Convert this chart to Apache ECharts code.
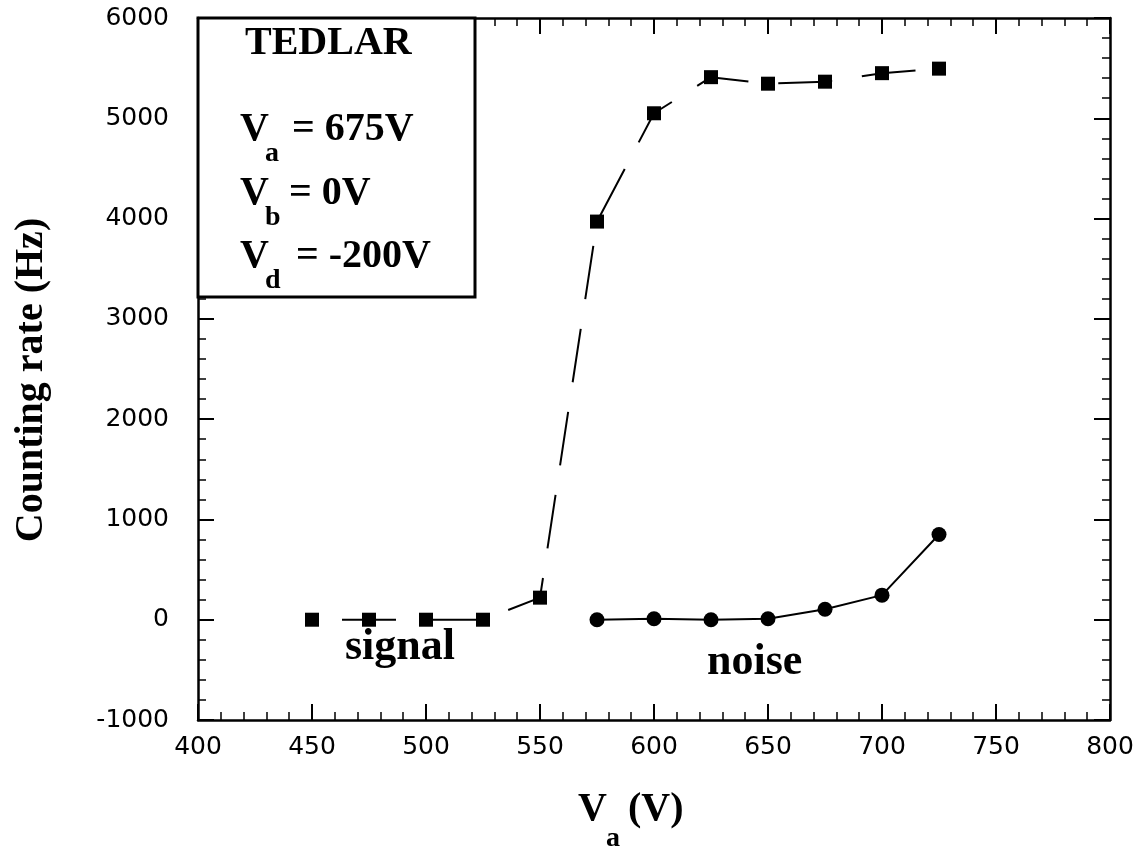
<!DOCTYPE html>
<html>
<head>
<meta charset="utf-8">
<script src="https://cdn.jsdelivr.net/npm/echarts@6/dist/echarts.min.js"></script>
<style>
html,body{margin:0;padding:0;background:#fff;}
#chart{width:1147px;height:850px;}
</style>
</head>
<body>
<div id="chart"></div>
<script>
// ---- data ----
const signalVa   = [450, 475, 500, 525, 550, 575, 600, 625, 650, 675, 700, 725];
const signalRate = [0, 0, 0, 0, 220, 3970, 5050, 5410, 5345, 5365, 5450, 5495];
const noiseVa    = [575, 600, 625, 650, 675, 700, 725];
const noiseRate  = [0, 10, 0, 10, 105, 245, 850];
const xTicks = [400, 450, 500, 550, 600, 650, 700, 750, 800];
const yTicks = [-1000, 0, 1000, 2000, 3000, 4000, 5000, 6000];

const pairs = (xs, ys) => xs.map((x, i) => [x, ys[i]]);

const serif = '"Liberation Serif", "Times New Roman", serif';
const sans = '"DejaVu Sans", sans-serif';

const chart = echarts.init(document.getElementById('chart'), null, {renderer: 'canvas'});

const axisLine = {show: true, onZero: false, lineStyle: {color: '#000', width: 2.5}};
const axisTick = {show: true, inside: true, length: 16, lineStyle: {color: '#000', width: 2}};
const minorTick = {show: true, splitNumber: 5, length: 8, lineStyle: {color: '#000', width: 1.5}};
const plain = v => String(v);

function textEl(x, y, text, size, extra) {
  return Object.assign({
    type: 'text', x: x, y: y, z: 110,
    style: {text: text, fontFamily: serif, fontWeight: 'bold', fontSize: size,
            fill: '#000', align: 'left', verticalAlign: 'middle'}
  }, extra || {});
}

chart.setOption({
  backgroundColor: '#fff',
  animation: false,
  grid: {left: 198, right: 37, top: 18, bottom: 130, containLabel: false},
  xAxis: [{
    type: 'value', min: xTicks[0], max: xTicks[xTicks.length - 1], interval: 50,
    axisLine: axisLine, axisTick: axisTick, minorTick: minorTick,
    splitLine: {show: false},
    axisLabel: {margin: 15, color: '#000', fontFamily: sans, fontSize: 25, formatter: plain}
  }, {
    type: 'value', position: 'top', min: xTicks[0], max: xTicks[xTicks.length - 1], interval: 50,
    axisLine: axisLine, axisTick: axisTick, minorTick: minorTick,
    splitLine: {show: false}, axisLabel: {show: false}
  }],
  yAxis: [{
    type: 'value', min: yTicks[0], max: yTicks[yTicks.length - 1], interval: 1000,
    axisLine: axisLine, axisTick: axisTick, minorTick: minorTick,
    splitLine: {show: false},
    axisLabel: {margin: 29, color: '#000', fontFamily: sans, fontSize: 25, formatter: plain}
  }, {
    type: 'value', position: 'right', min: yTicks[0], max: yTicks[yTicks.length - 1], interval: 1000,
    axisLine: axisLine, axisTick: axisTick, minorTick: minorTick,
    splitLine: {show: false}, axisLabel: {show: false}
  }],
  series: [{
    name: 'signal', type: 'line', data: pairs(signalVa, signalRate),
    symbol: 'rect', symbolSize: 14,
    itemStyle: {color: '#000'},
    lineStyle: {color: '#000', width: 2, type: [54, 30], dashOffset: 54},
    z: 5
  }, {
    name: 'noise', type: 'line', data: pairs(noiseVa, noiseRate),
    symbol: 'circle', symbolSize: 15,
    itemStyle: {color: '#000'},
    lineStyle: {color: '#000', width: 2, type: 'solid'},
    z: 5
  }],
  graphic: [
    {type: 'rect', z: 100, shape: {x: 198, y: 18, width: 277, height: 279},
     style: {fill: '#fff', stroke: '#000', lineWidth: 3}},
    textEl(245, 44, 'TEDLAR', 40),
    textEl(240, 130, 'V', 40), textEl(265, 154, 'a', 28), textEl(292, 130, '= 675V', 40),
    textEl(240, 194, 'V', 40), textEl(265, 218, 'b', 28), textEl(289, 194, '= 0V', 40),
    textEl(240, 257, 'V', 40), textEl(265, 281, 'd', 28), textEl(296, 257, '= -200V', 40),
    textEl(345, 648, 'signal', 44),
    textEl(707, 663, 'noise', 44),
    textEl(578, 810, 'V', 40), textEl(606, 839, 'a', 28), textEl(628, 810, '(V)', 40),
    textEl(32, 380, 'Counting rate (Hz)', 40, {rotation: Math.PI / 2,
      style: {text: 'Counting rate (Hz)', fontFamily: serif, fontWeight: 'bold', fontSize: 40,
              fill: '#000', align: 'center', verticalAlign: 'middle'}})
  ]
});
</script>
</body>
</html>
